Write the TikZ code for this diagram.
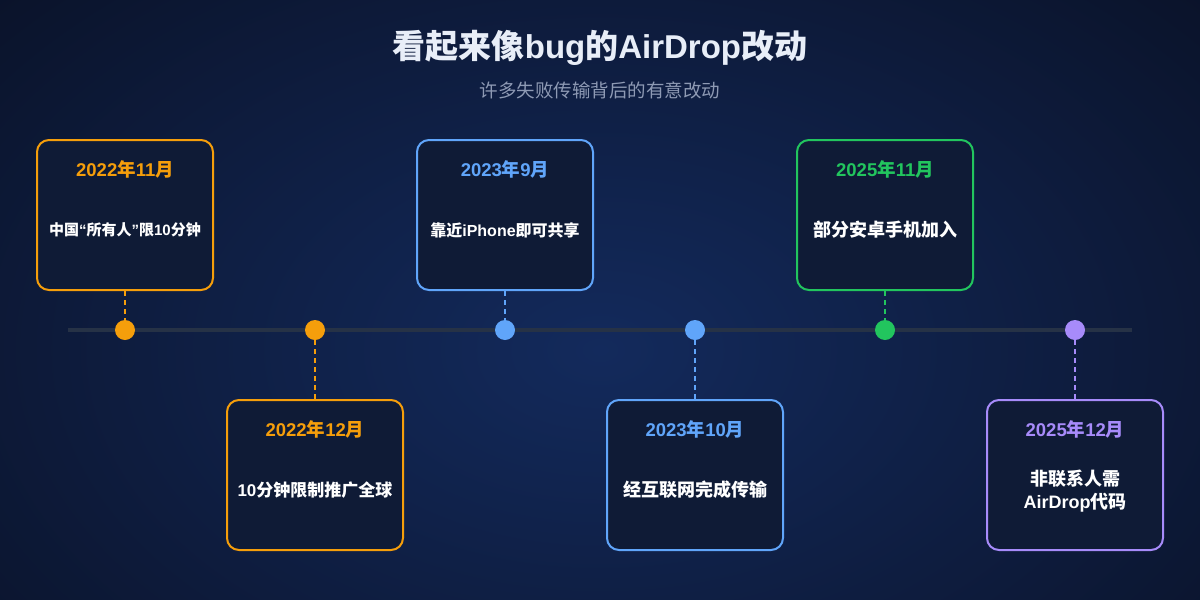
\documentclass[tikz,border=0pt]{standalone}
\usepackage{fontspec}
\setmainfont{Noto Sans CJK SC}
\newfontfamily\latf{Liberation Sans}
\newcommand{\lt}[1]{{\latf #1}}
\definecolor{bgout}{HTML}{0A1228}
\definecolor{bgin}{HTML}{132A5C}
\definecolor{boxfill}{HTML}{0F1B36}
\definecolor{cOrange}{HTML}{F59E0B}
\definecolor{cBlue}{HTML}{60A5FA}
\definecolor{cGreen}{HTML}{22C55E}
\definecolor{cPurple}{HTML}{A78BFA}
\definecolor{titlec}{HTML}{E8EEF8}
\definecolor{subc}{HTML}{8E9AB4}
\definecolor{linec}{HTML}{263246}
\tikzset{
  evbox/.style={draw=#1, line width=2pt, rounded corners=12pt, fill=boxfill, minimum width=176pt, minimum height=150pt, inner sep=0pt},
  datetext/.style={text=#1, font=\fontsize{18.5}{21}\selectfont\bfseries},
  desctext/.style={text=white, font=\fontsize{18}{23}\selectfont\bfseries, align=center},
  dot/.style={circle, fill=#1, minimum size=20pt, inner sep=0pt},
  conn/.style={draw=#1, line width=2pt, dash pattern=on 5pt off 4pt},
}
\begin{document}
\begin{tikzpicture}[x=1pt,y=-1pt]
\useasboundingbox (0,0) rectangle (1200,600);
\shade[inner color=bgin, outer color=bgout] (-250,-200) rectangle (1450,900);
\node[text=titlec, font=\fontsize{33}{36}\selectfont\bfseries] (title) at (600,48) {看起来像\lt{bug}的\lt{AirDrop}改动};
\node[text=subc, font=\fontsize{18.5}{22}\selectfont] (sub) at (600,90) {许多失败传输背后的有意改动};
\coordinate (tl1) at (68,330);
\coordinate (tl2) at (1132,330);
\draw[linec, line width=4pt] (tl1) -- (tl2);
% dots
\node[dot=cOrange] (d1) at (125,330) {};
\node[dot=cOrange] (d2) at (315,330) {};
\node[dot=cBlue] (d3) at (505,330) {};
\node[dot=cBlue] (d4) at (695,330) {};
\node[dot=cGreen] (d5) at (885,330) {};
\node[dot=cPurple] (d6) at (1075,330) {};
% boxes
\node[evbox=cOrange] (b1) at (125,215) {};
\node[evbox=cOrange] (b2) at (315,475) {};
\node[evbox=cBlue] (b3) at (505,215) {};
\node[evbox=cBlue] (b4) at (695,475) {};
\node[evbox=cGreen] (b5) at (885,215) {};
\node[evbox=cPurple] (b6) at (1075,475) {};
% connectors
\draw[conn=cOrange] (b1.south) -- (d1.north);
\draw[conn=cOrange] (d2.south) -- (b2.north);
\draw[conn=cBlue] (b3.south) -- (d3.north);
\draw[conn=cBlue] (d4.south) -- (b4.north);
\draw[conn=cGreen] (b5.south) -- (d5.north);
\draw[conn=cPurple] (d6.south) -- (b6.north);
% texts
\node[datetext=cOrange] (t1) at (125,169) {\lt{2022}年\lt{11}月};
\node[desctext, font=\fontsize{15}{20}\selectfont\bfseries] (e1) at (125,230) {中国\lt{“}所有人\lt{”}限\lt{10}分钟};
\node[datetext=cOrange] (t2) at (315,429) {\lt{2022}年\lt{12}月};
\node[desctext, font=\fontsize{17}{20}\selectfont\bfseries] (e2) at (315,490) {\lt{10}分钟限制推广全球};
\node[datetext=cBlue] (t3) at (505,169) {\lt{2023}年\lt{9}月};
\node[desctext, font=\fontsize{16}{20}\selectfont\bfseries] (e3) at (505,230) {靠近\lt{iPhone}即可共享};
\node[datetext=cBlue] (t4) at (695,429) {\lt{2023}年\lt{10}月};
\node[desctext] (e4) at (695,490) {经互联网完成传输};
\node[datetext=cGreen] (t5) at (885,169) {\lt{2025}年\lt{11}月};
\node[desctext] (e5) at (885,230) {部分安卓手机加入};
\node[datetext=cPurple] (t6) at (1075,429) {\lt{2025}年\lt{12}月};
\node[desctext] (e6) at (1075,491) {非联系人需\\\lt{AirDrop}代码};
\end{tikzpicture}
\end{document}
